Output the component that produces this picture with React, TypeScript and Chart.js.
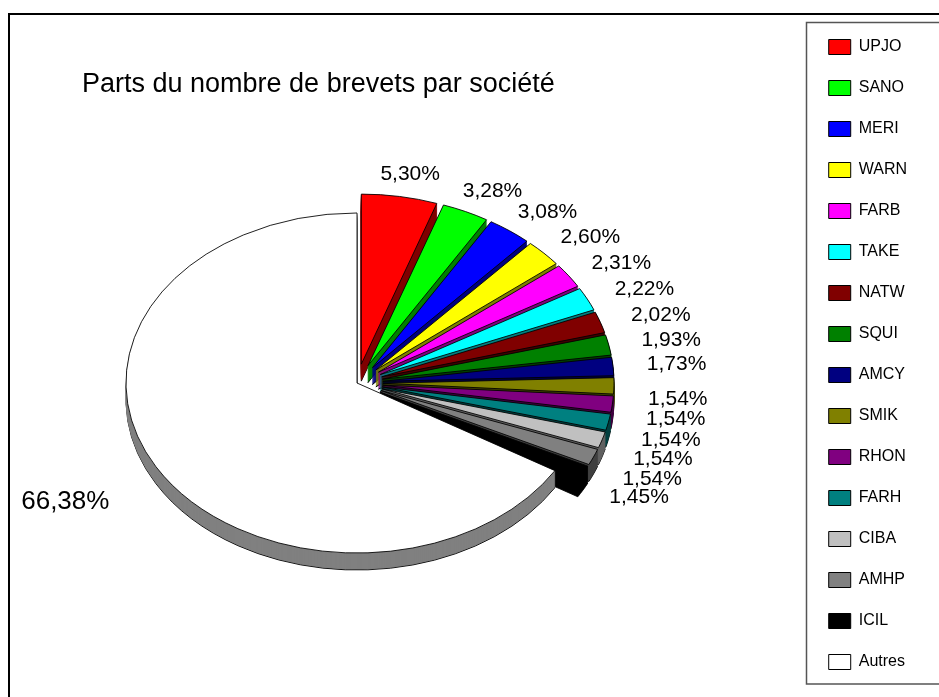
import React, { useEffect, useRef } from 'react';
import { Chart, registerables } from 'chart.js';

Chart.register(...registerables);

// ---- data ----
const TITLE = 'Parts du nombre de brevets par société';
const COMPANIES = ['UPJO', 'SANO', 'MERI', 'WARN', 'FARB', 'TAKE', 'NATW', 'SQUI', 'AMCY', 'SMIK', 'RHON', 'FARH', 'CIBA', 'AMHP', 'ICIL', 'Autres'];
const SHARES = [5.30, 3.28, 3.08, 2.60, 2.31, 2.22, 2.02, 1.93, 1.73, 1.54, 1.54, 1.54, 1.54, 1.54, 1.45, 66.38];
const COLORS = ['#FF0000', '#00FF00', '#0000FF', '#FFFF00', '#FF00FF', '#00FFFF', '#800000', '#008000', '#000080', '#808000', '#800080', '#008080', '#C0C0C0', '#808080', '#000000', '#FFFFFF'];
const NOT_EXPLODED = 'Autres';

// ---- style / layout ----
const FONT = "'Liberation Sans', Arial, Helvetica, sans-serif";
const PIE = { cx: 357, cy: 383, radius: 231, tilt: 0.736, depth: 17, explode: 26 };
const LABEL = { r: 274, gapX: 17, lowerShift: 13 };

function shade(hex: string): string {
  const n = parseInt(hex.slice(1), 16);
  const r = (n >> 16) & 255, g = (n >> 8) & 255, b = n & 255;
  return `rgb(${Math.round(r / 2)},${Math.round(g / 2)},${Math.round(b / 2)})`;
}

const fmt = (v: number) => v.toFixed(2).replace('.', ',') + '%';

const pie3d = {
  id: 'pie3d',
  beforeDatasetDraw(chart: any, args: any) {
    const ctx = chart.ctx as CanvasRenderingContext2D;
    const arcs = args.meta.data as any[];
    if (!arcs.length) return false;
    const ox = arcs[0].x, oy = arcs[0].y;
    const explodeOf = (i: number) => (COMPANIES[i] === NOT_EXPLODED ? 0 : PIE.explode);
    const drawArc = (arc: any, i: number, opts?: any) => {
      const mid = (arc.startAngle + arc.endAngle) / 2;
      const e = explodeOf(i);
      ctx.save();
      ctx.translate(Math.cos(mid) * e, Math.sin(mid) * e);
      if (opts) {
        const proxy = Object.create(arc);
        proxy.options = Object.assign({}, arc.options, opts);
        arc.draw.call(proxy, ctx);
      } else {
        arc.draw(ctx);
      }
      ctx.restore();
    };
    ctx.save();
    ctx.translate(PIE.cx, PIE.cy);
    ctx.scale(1, PIE.tilt);
    ctx.translate(-ox, -oy);
    for (let d = PIE.depth; d >= 1; d--) {
      ctx.save();
      ctx.translate(0, d / PIE.tilt);
      arcs.forEach((arc, i) => {
        const side = shade(COLORS[i]);
        const bottom = d === PIE.depth;
        drawArc(arc, i, {
          backgroundColor: side,
          borderColor: bottom ? '#000' : side,
          borderWidth: bottom ? 1 : 0.6,
        });
      });
      ctx.restore();
    }
    arcs.forEach((arc, i) => drawArc(arc, i));
    ctx.restore();
    return false;
  },
  afterDatasetsDraw(chart: any) {
    const ctx = chart.ctx as CanvasRenderingContext2D;
    const arcs = chart.getDatasetMeta(0).data as any[];
    const maxIdx = SHARES.indexOf(Math.max(...SHARES));
    ctx.save();
    ctx.fillStyle = '#000';
    ctx.textAlign = 'center';
    ctx.textBaseline = 'middle';
    arcs.forEach((arc, i) => {
      const text = fmt(SHARES[i]);
      const size = i === maxIdx ? 26 : 21;
      ctx.font = `${size}px ${FONT}`;
      const hw = ctx.measureText(text).width / 2;
      const hh = size * 0.48;
      const mid = (arc.startAngle + arc.endAngle) / 2;
      const c = Math.cos(mid), s = Math.sin(mid);
      const x = PIE.cx + c * (LABEL.r + hw + LABEL.gapX);
      const y = PIE.cy + s * (PIE.tilt * LABEL.r + hh) + (s > 0 ? LABEL.lowerShift : 0);
      ctx.fillText(text, x, y);
    });
    ctx.restore();
  },
};

const frames = {
  id: 'frames',
  afterDraw(chart: any) {
    const ctx = chart.ctx as CanvasRenderingContext2D;
    ctx.save();
    ctx.strokeStyle = '#000';
    ctx.lineWidth = 2;
    ctx.strokeRect(9, 14, 2000, 2000);
    ctx.strokeStyle = '#555';
    ctx.lineWidth = 1.5;
    ctx.strokeRect(806.5, 22.5, 400, 661.5);
    ctx.restore();
  },
};

export default function App() {
  const ref = useRef<HTMLCanvasElement | null>(null);
  useEffect(() => {
    if (!ref.current) return;
    Chart.defaults.font.family = FONT;
    Chart.defaults.color = '#000';
    const chart = new Chart(ref.current, {
      type: 'pie',
      data: {
        labels: COMPANIES,
        datasets: [
          {
            data: SHARES,
            backgroundColor: COLORS,
            borderColor: '#000',
            borderWidth: 1,
            radius: PIE.radius,
            clip: false,
          } as any,
        ],
      },
      options: {
        responsive: false,
        devicePixelRatio: 1,
        animation: false,
        events: [],
        layout: { padding: { left: 82, top: 14, right: 22, bottom: 0 } },
        plugins: {
          title: {
            display: true,
            text: TITLE,
            align: 'start',
            color: '#000',
            font: { size: 27, weight: 'normal' as any },
            padding: { top: 54, bottom: 0 },
          },
          legend: {
            position: 'right',
            align: 'start',
            labels: {
              boxWidth: 22,
              boxHeight: 15,
              padding: 25,
              color: '#000',
              font: { size: 16 },
            },
          },
          tooltip: { enabled: false },
        },
      } as any,
      plugins: [pie3d, frames],
    });
    return () => chart.destroy();
  }, []);
  return (
    <div style={{ position: 'fixed', left: 0, top: 0, width: 939, height: 697, background: '#fff' }}>
      <canvas ref={ref} width={939} height={697} style={{ display: 'block', width: 939, height: 697 }} />
    </div>
  );
}
